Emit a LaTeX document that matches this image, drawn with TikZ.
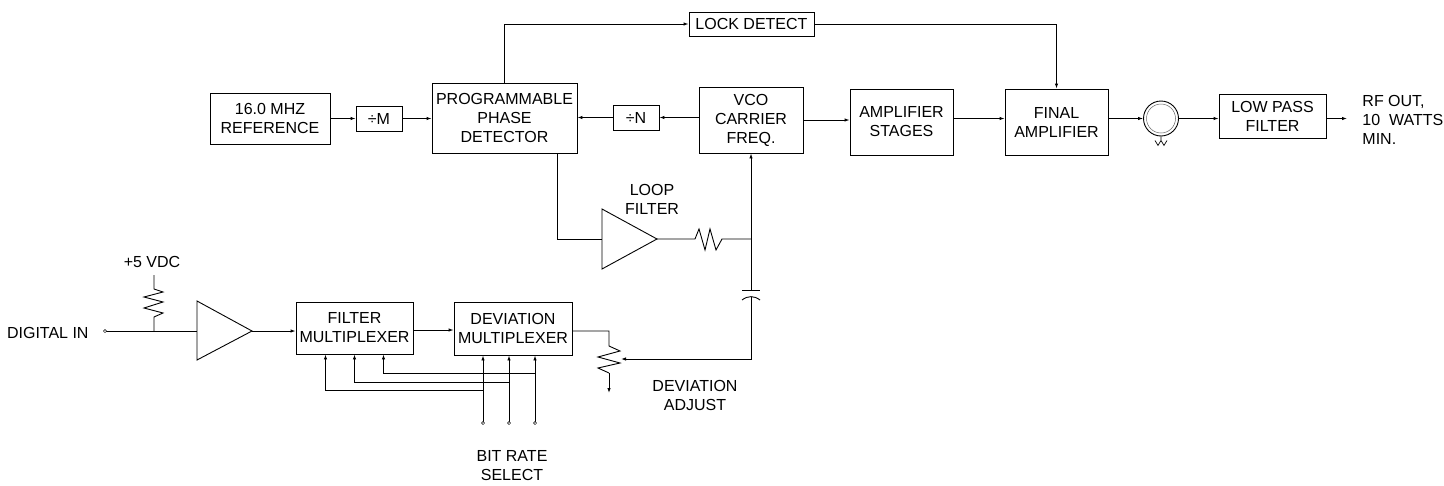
\documentclass[tikz,border=0pt]{standalone}
\usepackage{fontspec}
\setmainfont{Liberation Sans}
\usetikzlibrary{arrows.meta}

\tikzset{
  blk/.style={draw, align=center, inner sep=0pt},
  arr/.style={-{Latex[length=5pt,width=3.5pt]}},
  term/.style={draw, fill=white, line width=0.5pt}
}

\begin{document}
\begin{tikzpicture}[x=1pt, y=-1pt, line width=0.9pt,
    font=\fontsize{16}{19}\selectfont]
\useasboundingbox (0, 0) rectangle (1444, 485);

% upper chain
\node[blk, minimum width=120pt, minimum height=51pt] (ref) at (270, 118.5)
  {16.0 MHZ\\REFERENCE};
\node[blk, minimum width=46pt, minimum height=25pt] (divm) at (379, 118.5) {÷M};
\node[blk, minimum width=145pt, minimum height=70pt] (ppd) at (504.5, 118)
  {PROGRAMMABLE\\PHASE\\DETECTOR};
\node[blk, minimum width=46pt, minimum height=25pt] (divn) at (636, 117.5) {÷N};
\node[blk, minimum width=104pt, minimum height=66pt] (vco) at (751, 120)
  {VCO\\CARRIER\\FREQ.};
\node[blk, minimum width=103pt, minimum height=66pt] (ampst) at (901.5, 122)
  {AMPLIFIER\\STAGES};
\node[blk, minimum width=103pt, minimum height=66pt] (finamp) at (1056.5, 122)
  {FINAL\\AMPLIFIER};
\node[blk, minimum width=125pt, minimum height=24pt] (lock) at (751.5, 24)
  {LOCK DETECT};
\node[draw, circle, minimum size=35pt, inner sep=0pt] (circ) at (1161, 118.5) {};
\draw[line width=0.5pt, black!60] (circ.center) circle (14.5pt);
\draw[line width=0.7pt] (circ.south) -- ++(0, 4) coordinate (load)
  (load) ++(-6, 0) -- ++(3, 5) -- ++(3, -5) -- ++(3, 5) -- ++(3, -5);
\node[blk, minimum width=107pt, minimum height=44pt] (lpf) at (1272.5, 116)
  {LOW PASS\\FILTER};
\coordinate (rfout) at (1347, 118.5);
\node[anchor=west, align=left, inner sep=0pt] (rftext) at (1362, 120)
  {RF OUT,\\10\ \ WATTS\\MIN.};

\draw[arr] (ref.east) -- (divm.west);
\draw[arr] (divm.east) -- (divm.east -| ppd.west);
\draw[arr] (divn.east -| vco.west) -- (divn.east);
\draw[arr] (divn.west) -- (divn.west -| ppd.east);
\draw[arr] (vco.east) -- (vco.east -| ampst.west);
\draw[arr] (ampst.east |- circ.west) -- (finamp.west |- circ.west);
\draw[arr] (finamp.east |- circ.west) -- (circ.west);
\draw[arr] (circ.east) -- (circ.east -| lpf.west);
\draw[arr] (lpf.east |- rfout) -- (rfout);
\draw[arr] (ppd.north) -- (ppd.north |- lock.west) -- (lock.west);
\draw[arr] (lock.east) -- (lock.east -| finamp.north) -- (finamp.north);

% loop filter
\coordinate (lfin) at (602, 239);
\coordinate (lfout) at (657, 239);
\coordinate (jn) at (751, 239);
\draw (602, 209) -- (lfout) -- (602, 269) -- cycle;
\node (lftext) at (652, 199) [align=center] {LOOP\\FILTER};
\draw ([xshift=-20pt]ppd.south east) -- ([xshift=-20pt]ppd.south east |- lfin)
  -- (lfin);
\draw (lfout) -- (695, 239) -- (699, 229) -- (705, 250) -- (710, 229)
  -- (716, 250) -- (722, 239) -- (jn);
\draw[arr] (jn) -- (vco.south);
% coupling capacitor
\draw (jn) -- (751, 290);
\draw (742, 290) -- (760, 290);
\draw (742, 300) .. controls (748, 295.5) and (754, 295.5) .. (760, 300);
\coordinate (wiper) at (621, 359);
\draw[arr] (751, 296.5) -- (751, 359) -- (wiper);

% modulation path
\node[blk, minimum width=117pt, minimum height=52pt] (fmux) at (354.5, 328)
  {FILTER\\MULTIPLEXER};
\node[blk, minimum width=118pt, minimum height=53pt] (dmux) at (513, 328.5)
  {DEVIATION\\MULTIPLEXER};
\coordinate (din) at (105, 331);
\coordinate (pu) at (154, 331);
\coordinate (ampin) at (197, 331);
\coordinate (ampout) at (252, 331);
\node[anchor=east, inner sep=0pt] (dintext) at (89, 333) {DIGITAL IN};
\node (vdc) at (152, 262) {+5 VDC};
\draw (ampin) ++(0, -30) -- (ampout) -- (197, 360) -- cycle;
\draw (din) -- (ampin);
\draw[term] (din) circle (1.6pt);
\draw (pu) -- (154, 317) -- (163, 313) -- (144, 308) -- (163, 302) -- (144, 297)
  -- (163, 292) -- (154, 289) -- (154, 275);
\draw[arr] (ampout) -- (ampout -| fmux.west);
\draw[arr] ([yshift=-2pt]fmux.east) -- ([yshift=-2pt]fmux.east -| dmux.west);

% deviation adjust pot
\draw ([yshift=-2.5pt]dmux.east) -- (609, 331) -- (609, 346) -- (620, 351)
  -- (598, 357) -- (620, 363) -- (598, 368) -- (609, 373);
\draw[arr] (609, 373) -- (609, 393);
\node (devtext) at (695, 395) [align=center] {DEVIATION\\ADJUST};

% bit rate select
\foreach \i/\x/\dx/\yy in {1/483/-29/390, 2/509/0/382, 3/535/29/373} {
  \coordinate (b\i) at (\x, 423);
  \draw[arr] (b\i) -- (b\i |- dmux.south);
  \draw[arr] (\x, \yy) -| ([xshift=\dx pt]fmux.south);
  \draw[term] (b\i) circle (1.6pt);
}
\node (bittext) at (512, 466) [align=center] {BIT RATE\\SELECT};

\end{tikzpicture}
\end{document}
